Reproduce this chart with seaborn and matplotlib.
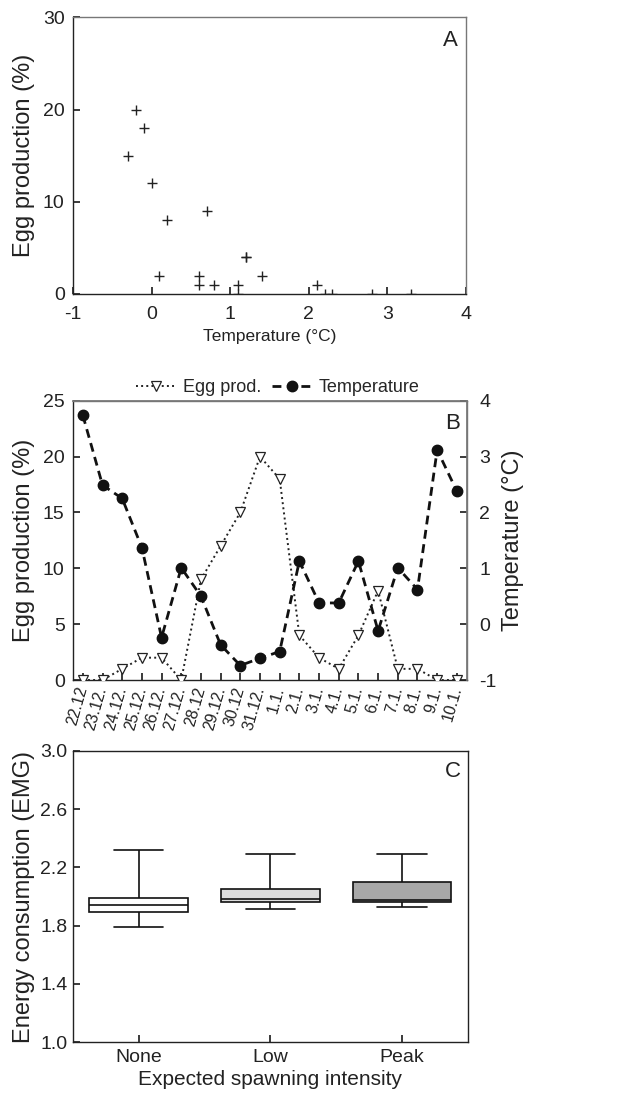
import matplotlib
matplotlib.use("Agg")
import matplotlib.pyplot as plt
import numpy as np
import pandas as pd
import seaborn as sns

# ---- data: panel A (egg production vs temperature) ----
a_temp = [-0.3, -0.2, -0.1, 0.0, 0.2, 0.1, 0.6, 0.6, 0.7, 0.8, 1.1, 1.1,
          1.2, 1.2, 1.4, 2.1, 2.2, 2.3, 2.8, 3.3]
a_egg = [15, 20, 18, 12, 8, 2, 2, 1, 9, 1, 1, 0, 4, 4, 2, 1, 0, 0, 0, 0]

# ---- data: panel B (daily series) ----
dates = ["22.12", "23.12.", "24.12.", "25.12.", "26.12.", "27.12.", "28.12",
         "29.12.", "30.12", "31.12.", "1.1.", "2.1.", "3.1.", "4.1.", "5.1.",
         "6.1.", "7.1.", "8.1.", "9.1.", "10.1."]
b_egg = [0, 0, 1, 2, 2, 0, 9, 12, 15, 20, 18, 4, 2, 1, 4, 8, 1, 1, 0, 0]
b_temp = [3.74, 2.49, 2.25, 1.37, -0.24, 1.01, 0.50, -0.37, -0.74, -0.61,
          -0.49, 1.13, 0.38, 0.38, 1.13, -0.12, 1.01, 0.62, 3.12, 2.38]

# ---- data: panel C (box summaries: low whisker, Q1, median, Q3, high whisker) ----
intensity = ["None", "Low", "Peak"]
emg_none = [1.79, 1.895, 1.94, 1.993, 2.32]
emg_low = [1.915, 1.966, 1.984, 2.053, 2.29]
emg_peak = [1.929, 1.966, 1.977, 2.10, 2.293]
box_colors = {"None": "#ffffff", "Low": "#dcdcdc", "Peak": "#a8a8a8"}

sns.set_theme(style="ticks")
plt.rcParams["font.family"] = ["Liberation Sans", "DejaVu Sans"]
plt.rcParams["axes.unicode_minus"] = False
plt.rcParams["xtick.direction"] = "in"
plt.rcParams["ytick.direction"] = "in"
plt.rcParams["xtick.major.size"] = 5
plt.rcParams["ytick.major.size"] = 5
plt.rcParams["xtick.color"] = "#222222"
plt.rcParams["ytick.color"] = "#222222"

TICK = 14
YLAB = 17
INK = "#222222"


def style_frame(ax, edge="#777777"):
    for s in ["left", "bottom"]:
        ax.spines[s].set_color(INK)
        ax.spines[s].set_linewidth(1.0)
    for s in ["top", "right"]:
        ax.spines[s].set_visible(True)
        ax.spines[s].set_color(edge)
        ax.spines[s].set_linewidth(1.0)
    ax.tick_params(labelsize=TICK, labelcolor=INK)


fig = plt.figure(figsize=(6.43, 10.94), dpi=100)

# ──── Panel A ────
axA = fig.add_axes([0.1135, 0.7313, 0.6112, 0.2529])
sns.scatterplot(x=a_temp, y=a_egg, marker="+", color=INK, s=55,
                linewidth=1.0, ax=axA)
axA.set_xlim(-1, 4)
axA.set_ylim(0, 30)
axA.set_xticks([-1, 0, 1, 2, 3, 4])
axA.set_yticks([0, 10, 20, 30])
axA.set_xlabel("Temperature (°C)", fontsize=12.5, color=INK, labelpad=4)
axA.set_ylabel("Egg production (%)", fontsize=YLAB, color=INK, labelpad=6)
axA.text(0.978, 0.955, "A", transform=axA.transAxes, ha="right", va="top",
         fontsize=16, color=INK)
style_frame(axA)
axA.tick_params(axis="x", pad=9)
axA.tick_params(axis="y", pad=6)

# ──── Panel B ────
axB = fig.add_axes([0.1135, 0.3784, 0.6123, 0.2553])
x = np.arange(len(dates))
l1, = axB.plot(x, b_egg, linestyle=":", color=INK, linewidth=1.4,
               marker="v", markersize=7, markerfacecolor="white",
               markeredgecolor=INK, markeredgewidth=0.9,
               label="Egg prod.", zorder=3)
axB.set_ylim(0, 25)
axB.set_yticks([0, 5, 10, 15, 20, 25])
axB.set_xlim(-0.5, len(dates) - 0.5)
axB.set_xticks(x)
axB.set_xticklabels(dates, rotation=74, ha="right", va="center",
                    rotation_mode="anchor")
axB.set_ylabel("Egg production (%)", fontsize=YLAB, color=INK, labelpad=6)
style_frame(axB)
axB.tick_params(axis="x", labelsize=11.5, pad=5)
axB.tick_params(axis="y", pad=6)

axB2 = axB.twinx()
l2, = axB2.plot(x, b_temp, linestyle=(0, (3.2, 2.0)), color="#111111",
                linewidth=2.0, marker="o", markersize=7.5,
                markerfacecolor="#111111", markeredgecolor="#111111",
                label="Temperature", zorder=4)
axB2.set_ylim(-1, 4)
axB2.set_yticks([-1, 0, 1, 2, 3, 4])
axB2.set_ylabel("Temperature (°C)", fontsize=YLAB, color=INK, labelpad=4)
axB2.tick_params(axis="y", direction="in", labelsize=TICK, labelcolor=INK, pad=9)
for s in ["top", "right"]:
    axB2.spines[s].set_color("#777777")
axB2.spines["left"].set_visible(False)
axB2.spines["bottom"].set_visible(False)
axB2.text(0.982, 0.955, "B", transform=axB2.transAxes, ha="right", va="top",
          fontsize=16, color=INK)

axB.legend(handles=[l1, l2], loc="lower center", bbox_to_anchor=(0.52, 0.985),
           ncol=2, frameon=False, fontsize=13, handlelength=2.2,
           handletextpad=0.4, columnspacing=0.6, borderaxespad=0.1)

# ──── Panel C ────
axC = fig.add_axes([0.1135, 0.0473, 0.6140, 0.2663])
df_c = pd.DataFrame({
    "intensity": np.repeat(intensity, 5),
    "emg": emg_none + emg_low + emg_peak,
})
sns.boxplot(data=df_c, x="intensity", y="emg", hue="intensity",
            order=intensity, hue_order=intensity, palette=box_colors,
            width=0.75, whis=(0, 100), linecolor="#111111", linewidth=1.2,
            legend=False, ax=axC)
axC.set_xlim(-0.5, 2.5)
axC.set_ylim(1.0, 3.0)
axC.set_yticks([1.0, 1.4, 1.8, 2.2, 2.6, 3.0])
axC.set_yticklabels(["1.0", "1.4", "1.8", "2.2", "2.6", "3.0"])
axC.set_xlabel("Expected spawning intensity", fontsize=15, color=INK, labelpad=3)
axC.set_ylabel("Energy consumption (EMG)", fontsize=YLAB, color=INK, labelpad=4)
axC.text(0.982, 0.965, "C", transform=axC.transAxes, ha="right", va="top",
         fontsize=16, color=INK)
style_frame(axC, edge=INK)
axC.tick_params(axis="y", pad=4)
axC.tick_params(axis="x", pad=5)

fig.savefig("out.png", dpi=100)
plt.close(fig)
